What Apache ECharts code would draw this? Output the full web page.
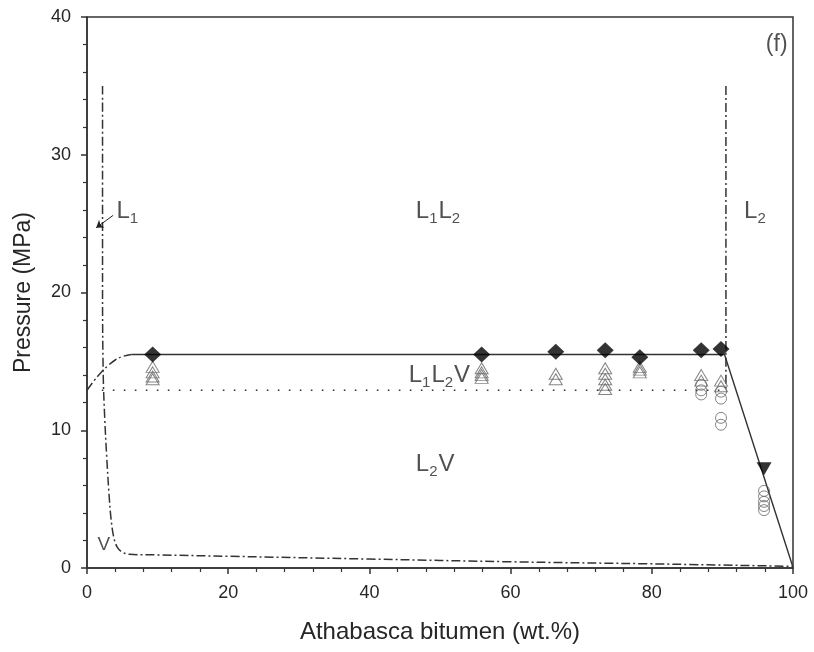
<!DOCTYPE html>
<html>
<head>
<meta charset="utf-8">
<script src="https://cdn.jsdelivr.net/npm/echarts@6/dist/echarts.min.js"></script>
<style>html,body{margin:0;padding:0;background:#fff}#c{width:814px;height:652px}</style>
</head>
<body>
<div id="c"></div>
<script>
// ---- data ----
const xTicks = [0, 20, 40, 60, 80, 100];
const yTicks = [0, 10, 20, 30, 40];
// filled diamonds (L1L2 -> L1L2V boundary)
const diamondX = [9.3, 55.9, 66.4, 73.4, 78.3, 87.0, 89.8];
const diamondY = [15.5, 15.5, 15.7, 15.8, 15.3, 15.8, 15.9];
// filled down triangle
const downTriX = [95.9];
const downTriY = [7.2];
// open triangles
const triX = [9.3, 9.3, 9.3, 9.3, 55.9, 55.9, 55.9, 55.9, 66.4, 66.4, 73.4, 73.4, 73.4, 73.4, 73.4, 78.3, 78.3, 78.3, 87.0, 87.0, 89.8, 89.8];
const triY = [14.6, 14.2, 13.9, 13.7, 14.5, 14.2, 14.0, 13.8, 14.1, 13.7, 14.5, 14.1, 13.7, 13.3, 13.0, 14.6, 14.4, 14.2, 14.0, 13.6, 13.6, 13.2];
// open circles
const circX = [87.0, 87.0, 87.0, 89.8, 89.8, 89.8, 89.8, 95.9, 95.9, 95.9, 95.9, 95.9];
const circY = [13.3, 12.9, 12.6, 12.8, 12.3, 10.9, 10.4, 5.6, 5.2, 4.8, 4.5, 4.2];
// solid boundary line
const solidX = [6.3, 90.3, 100];
const solidY = [15.5, 15.5, 0.05];
// dash-dot rising curve
const riseX = [0, 1, 2, 3, 4, 5, 6.3];
const riseY = [12.9, 13.6, 14.2, 14.7, 15.1, 15.35, 15.5];
// dash-dot L1 / V boundary curve
const vCurveX = [2.2, 2.2, 2.3, 2.5, 2.8, 3.1, 3.4, 3.8, 4.3, 5.0, 6.0, 10, 20, 40, 60, 80, 100];
const vCurveY = [35, 20, 14, 11, 8, 5.5, 3.6, 2.2, 1.5, 1.15, 1.0, 0.95, 0.85, 0.65, 0.45, 0.3, 0.12];
// dash-dot L2 boundary
const l2X = [90.5, 90.5];
const l2Y = [35, 12.9];
// dotted three-phase line
const dotX = [2.1, 90];
const dotY = [12.9, 12.9];
// leader arrow to L1
const arrowX = [1.3, 3.7];
const arrowY = [24.7, 25.6];
// annotations
const annoText = ['{n|L}{s|1}', '{n|L}{s|1}{n|L}{s|2}', '{n|L}{s|2}', '{n|L}{s|1}{n|L}{s|2}{n|V}', '{n|L}{s|2}{n|V}', '{v|V}', '{f|(f)}'];
const annoX = [4.1, 46.5, 93.0, 45.5, 46.5, 1.4, 99.3];
const annoY = [25.9, 25.9, 25.9, 14.0, 7.5, 1.7, 38.0];
const annoSide = ['right', 'right', 'right', 'right', 'right', 'right', 'left'];

const zip = (xs, ys) => xs.map((x, i) => [x, ys[i]]);

const textColor = '#262626';
const ff = 'Liberation Sans, Arial, sans-serif';
const dashDot = [9, 3, 2, 3];

const chart = echarts.init(document.getElementById('c'), null, {renderer: 'canvas'});
const richStyle = {
  n: {fontSize: 24, color: textColor, fontFamily: ff, lineHeight: 28},
  f: {fontSize: 23, color: textColor, fontFamily: ff, lineHeight: 28},
  v: {fontSize: 19, color: textColor, fontFamily: ff, lineHeight: 28},
  s: {fontSize: 15, color: textColor, fontFamily: ff, lineHeight: 28, padding: [15, 1, 0, 0]}
};

chart.setOption({
  animation: false,
  backgroundColor: '#fff',
  grid: {left: 87, right: 21, top: 17, bottom: 84, show: true, borderColor: '#333', borderWidth: 1.5, backgroundColor: 'transparent'},
  xAxis: {
    type: 'value', min: xTicks[0], max: xTicks[xTicks.length - 1], interval: 20,
    name: 'Athabasca bitumen (wt.%)', nameLocation: 'middle', nameGap: 52,
    nameTextStyle: {fontSize: 24, color: textColor, fontFamily: ff},
    axisLine: {lineStyle: {color: '#333', width: 1.5}},
    axisTick: {length: 6, lineStyle: {color: '#333', width: 1.5}},
    minorTick: {show: true, splitNumber: 5, length: 4, lineStyle: {color: '#333', width: 1.2}},
    axisLabel: {fontSize: 18, color: textColor, fontFamily: ff, margin: 16},
    splitLine: {show: false}
  },
  yAxis: {
    type: 'value', min: yTicks[0], max: yTicks[yTicks.length - 1], interval: 10,
    name: 'Pressure (MPa)', nameLocation: 'middle', nameGap: 52,
    nameTextStyle: {fontSize: 23, color: textColor, fontFamily: ff},
    axisLine: {lineStyle: {color: '#333', width: 1.5}},
    axisTick: {length: 6, lineStyle: {color: '#333', width: 1.5}},
    minorTick: {show: true, splitNumber: 5, length: 4, lineStyle: {color: '#333', width: 1.2}},
    axisLabel: {fontSize: 18, color: textColor, fontFamily: ff, margin: 16},
    splitLine: {show: false}
  },
  series: [
    {type: 'line', data: zip(vCurveX, vCurveY), smooth: 0.35, symbol: 'none', lineStyle: {color: '#333', width: 1.5, type: dashDot}, z: 2},
    {type: 'line', data: zip(riseX, riseY), smooth: 0.4, symbol: 'none', lineStyle: {color: '#333', width: 1.5, type: dashDot}, z: 2},
    {type: 'line', data: zip(l2X, l2Y), symbol: 'none', lineStyle: {color: '#333', width: 1.5, type: dashDot}, z: 2},
    {type: 'line', data: zip(dotX, dotY), symbol: 'none', lineStyle: {color: '#333', width: 1.6, type: [1.6, 9.4]}, z: 2},
    {type: 'line', data: zip(solidX, solidY), symbol: 'none', lineStyle: {color: '#333', width: 1.4}, z: 2},
    {type: 'lines', coordinateSystem: 'cartesian2d', symbol: ['arrow', 'none'], symbolSize: 7,
      lineStyle: {color: '#222', width: 1, opacity: 1},
      data: [{coords: zip(arrowX, arrowY)}], z: 3},
    {type: 'scatter', data: zip(triX, triY), symbol: 'triangle', symbolSize: [13, 11],
      itemStyle: {color: 'rgba(255,255,255,0)', borderColor: '#666', borderWidth: 1}, z: 3},
    {type: 'scatter', data: zip(circX, circY), symbol: 'circle', symbolSize: 11,
      itemStyle: {color: 'rgba(255,255,255,0)', borderColor: '#666', borderWidth: 1}, z: 3},
    {type: 'scatter', data: zip(diamondX, diamondY), symbol: 'diamond', symbolSize: [17, 16],
      itemStyle: {color: '#000'}, z: 4},
    {type: 'scatter', data: zip(downTriX, downTriY), symbol: 'triangle', symbolRotate: 180, symbolSize: [15, 13],
      itemStyle: {color: '#000'}, z: 4},
    {type: 'scatter', symbolSize: 1, itemStyle: {color: 'rgba(0,0,0,0)'}, z: 5, silent: true,
      data: annoText.map((t, i) => ({
        value: [annoX[i], annoY[i]],
        label: {show: true, position: annoSide[i], distance: 0, formatter: t, rich: richStyle}
      }))}
  ]
});
</script>
</body>
</html>
